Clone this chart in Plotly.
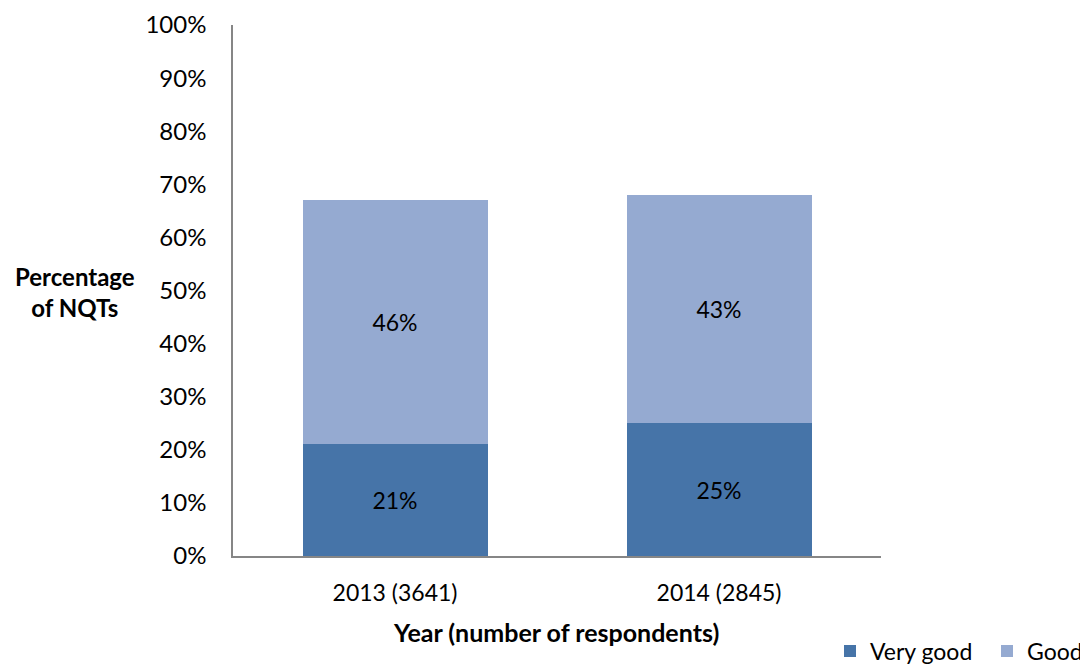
import plotly.graph_objects as go

categories = ["2013 (3641)", "2014 (2845)"]
very_good = [21, 25]
good = [46, 43]
series_names = ["Very good", "Good"]
colors = ["#4674A8", "#95AAD1"]
y_ticks = [0, 10, 20, 30, 40, 50, 60, 70, 80, 90, 100]
y_tick_labels = [f"{v}%" for v in y_ticks]

# page body adds an 8px margin; lay out in reference pixels minus that offset
OFF = 8
W, H = 1088 - OFF, 664 - OFF
L, T = 233 - OFF, 25 - OFF
R = W - (881 - OFF)
B = H - (556 - OFF)
PW, PH = W - L - R, H - T - B
FONT = "Lato, Open Sans, sans-serif"


def px_x(x):
    return (x - OFF - L) / PW


def px_y(y):
    return (H - B - (y - OFF)) / PH


fig = go.Figure()
for name, vals, col in zip(series_names, [very_good, good], colors):
    fig.add_trace(go.Bar(
        x=categories, y=vals, name=name,
        marker=dict(color=col, line=dict(width=0)),
        text=[f"{v}%" for v in vals],
        textposition="inside", insidetextanchor="middle",
        textfont=dict(size=23, color="black", family=FONT),
        width=0.571,
    ))

fig.update_layout(
    barmode="stack",
    width=W, height=H,
    margin=dict(l=L, r=R, t=T, b=B, autoexpand=False),
    plot_bgcolor="white", paper_bgcolor="white",
    font=dict(family=FONT, size=23, color="black"),
    uniformtext=dict(minsize=23, mode="show"),
    xaxis=dict(
        automargin=False,
        showline=True, linecolor="#868686", linewidth=1.5,
        ticks="", ticklabelstandoff=16,
        tickfont=dict(size=23),
    ),
    yaxis=dict(
        automargin=False,
        range=[0, 100],
        tickvals=y_ticks, ticktext=y_tick_labels,
        showline=True, linecolor="#868686", linewidth=1.5,
        showgrid=False, zeroline=False,
        ticks="", ticklabelstandoff=20,
        tickfont=dict(size=24),
    ),
    legend=dict(
        orientation="h", x=px_x(830), xanchor="left",
        y=px_y(651), yanchor="middle",
        font=dict(size=23), traceorder="normal",
        itemwidth=30, entrywidth=112,
        bgcolor="rgba(0,0,0,0)",
    ),
    showlegend=True,
)

fig.add_annotation(
    text="<b>Percentage<br>of NQTs</b>", xref="paper", yref="paper",
    x=px_x(75), y=px_y(292), xanchor="center", yanchor="middle",
    showarrow=False, font=dict(size=24), align="center",
)
fig.add_annotation(
    text="<b>Year (number of respondents)</b>", xref="paper", yref="paper",
    x=px_x(556), y=px_y(632), xanchor="center", yanchor="middle",
    showarrow=False, font=dict(size=25),
)

fig.write_html("out.html")
